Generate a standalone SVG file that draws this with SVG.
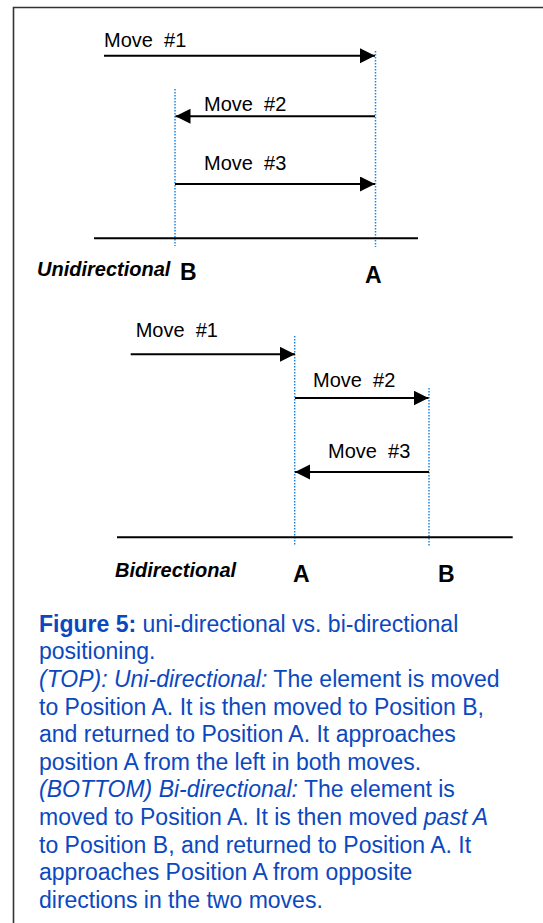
<svg xmlns="http://www.w3.org/2000/svg" width="543" height="923" viewBox="0 0 543 923">
<defs>
<marker id="ah" markerUnits="userSpaceOnUse" markerWidth="16" markerHeight="16" refX="15" refY="7.5" orient="auto">
<path d="M0,0 L15,7.5 L0,15 Z" fill="#000"/>
</marker>
<style>
.arrow{stroke:#000;stroke-width:2;fill:none;marker-end:url(#ah)}
.ground{stroke:#000;stroke-width:2}
.pos{stroke:#1f86de;stroke-width:1.5;stroke-dasharray:1.5 1.5}
.lbl{font-family:"Liberation Sans",Arial,sans-serif;font-size:20px;fill:#000}
.mode{font-family:"Liberation Sans",Arial,sans-serif;font-size:20px;font-weight:bold;font-style:italic;fill:#000}
.pt{font-family:"Liberation Sans",Arial,sans-serif;font-size:23px;font-weight:bold;fill:#000}
.cap{font-family:"Liberation Sans",Arial,sans-serif;font-size:23px;fill:#0b48c0}
</style>
</defs>
<rect width="543" height="923" fill="#fff"/>
<path d="M13.5,923 L13.5,7.5 L543,7.5" stroke="#333" stroke-width="1.6" fill="none"/>

<g id="positions">
<line class="pos" x1="375.5" y1="51" x2="375.5" y2="247"/>
<line class="pos" x1="175" y1="89" x2="175" y2="246"/>
<line class="pos" x1="294.7" y1="336" x2="294.7" y2="546"/>
<line class="pos" x1="429" y1="388" x2="429" y2="546"/>
</g>

<g id="connectors">
<line class="arrow" x1="104" y1="55.7" x2="375" y2="55.7"/>
<line class="arrow" x1="375" y1="116.3" x2="175.5" y2="116.3"/>
<line class="arrow" x1="175" y1="184" x2="375" y2="184"/>
<line class="arrow" x1="130.7" y1="354.3" x2="295" y2="354.3"/>
<line class="arrow" x1="295" y1="398" x2="428.5" y2="398"/>
<line class="arrow" x1="429" y1="472" x2="295" y2="472"/>
</g>

<g id="unidirectional">
<text class="lbl" x="104" y="47" xml:space="preserve">Move  #1</text>
<text class="lbl" x="204" y="111" xml:space="preserve">Move  #2</text>
<text class="lbl" x="204" y="170" xml:space="preserve">Move  #3</text>
<line class="ground" x1="94" y1="238.3" x2="418" y2="238.3"/>
<text class="mode" x="37" y="276">Unidirectional</text>
<text class="pt" x="180" y="280">B</text>
<text class="pt" x="365" y="283">A</text>
</g>

<g id="bidirectional">
<text class="lbl" x="135.7" y="336.7" xml:space="preserve">Move  #1</text>
<text class="lbl" x="313" y="387" xml:space="preserve">Move  #2</text>
<text class="lbl" x="328" y="458" xml:space="preserve">Move  #3</text>
<line class="ground" x1="117" y1="537.3" x2="512.7" y2="537.3"/>
<text class="mode" x="115" y="576.7">Bidirectional</text>
<text class="pt" x="293" y="581.7">A</text>
<text class="pt" x="438" y="581.7">B</text>
</g>

<g id="caption">
<text class="cap" x="39" y="631.7"><tspan font-weight="bold">Figure 5:</tspan> uni-directional vs. bi-directional</text>
<text class="cap" x="39" y="659.3">positioning.</text>
<text class="cap" x="39" y="686.9"><tspan font-style="italic">(TOP): Uni-directional:</tspan> The element is moved</text>
<text class="cap" x="39" y="714.5">to Position A. It is then moved to Position B,</text>
<text class="cap" x="39" y="742.1">and returned to Position A. It approaches</text>
<text class="cap" x="39" y="769.7">position A from the left in both moves.</text>
<text class="cap" x="39" y="797.3"><tspan font-style="italic">(BOTTOM) Bi-directional:</tspan> The element is</text>
<text class="cap" x="39" y="824.9">moved to Position A. It is then moved <tspan font-style="italic">past A</tspan></text>
<text class="cap" x="39" y="852.5">to Position B, and returned to Position A. It</text>
<text class="cap" x="39" y="880.1">approaches Position A from opposite</text>
<text class="cap" x="39" y="907.7">directions in the two moves.</text>
</g>
</svg>
